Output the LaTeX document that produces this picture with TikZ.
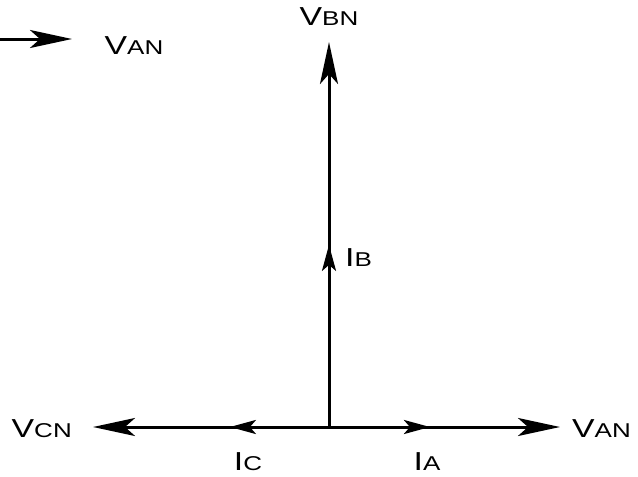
\documentclass[tikz,border=0pt]{standalone}
\usepackage{fontspec}
\setmainfont{Liberation Sans}
\newfontfamily\phfont[FakeStretch=1.3]{Liberation Sans}
\usetikzlibrary{arrows.meta,decorations.markings}

\newcommand{\phasor}[2]{{\phfont\fontsize{26}{26}\selectfont #1\fontsize{20}{20}\selectfont #2}}

\begin{document}
\begin{tikzpicture}[
    x=1pt, y=-1pt,
    phase/.style={line width=3pt, -{Stealth[length=42pt,width=18pt,inset=10pt]}},
    midtip/.style={postaction={decorate}, decoration={markings,
        mark=at position #1 with {\arrow{Stealth[length=26pt,width=14pt,inset=6pt]}}}},
    lbl/.style={inner sep=0pt}
]
    \useasboundingbox (0,0) rectangle (638,477);

    \coordinate (O) at (329,427);
    \coordinate (BN) at (329,42);
    \coordinate (AN) at (560,427);
    \coordinate (CN) at (93,427);
    \coordinate (K1) at (0,39);
    \coordinate (K2) at (72,39);

    \draw[phase, midtip=0.473] (O) -- (BN);
    \draw[phase, midtip=0.437] (O) -- (AN);
    \draw[phase, midtip=0.42] (O) -- (CN);
    \draw[phase] (K1) -- (K2);

    \node[lbl] (vbn) at (329,17) {\phasor{V}{BN}};
    \node[lbl,anchor=west] (van) at (572,429) {\phasor{V}{AN}};
    \node[lbl,anchor=east] (vcn) at (72,429) {\phasor{V}{CN}};
    \node[lbl] (key) at (134,46) {\phasor{V}{AN}};
    \node[lbl,anchor=west] (ib) at (345,258) {\phasor{I}{B}};
    \node[lbl] (ic) at (248,462) {\phasor{I}{C}};
    \node[lbl] (ia) at (427,462) {\phasor{I}{A}};
\end{tikzpicture}
\end{document}
